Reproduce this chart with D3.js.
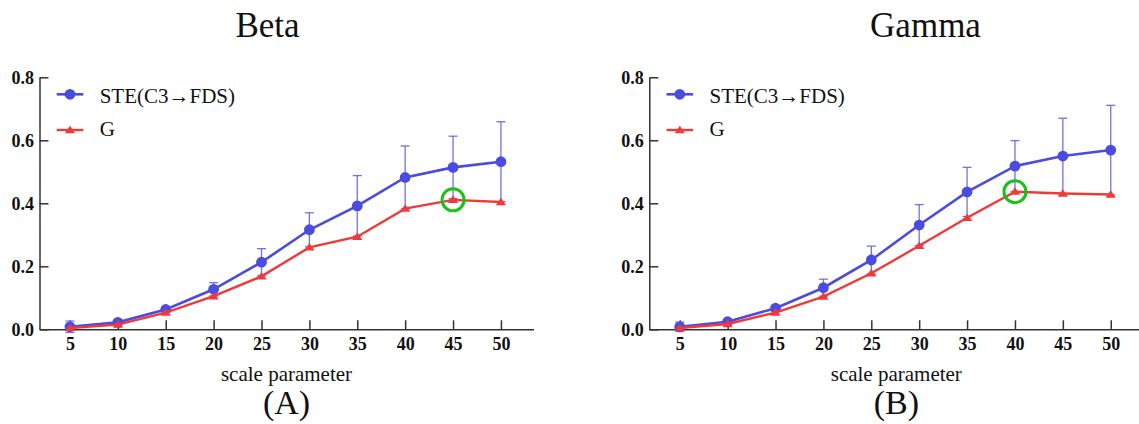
<!DOCTYPE html>
<html>
<head>
<meta charset="utf-8">
<script src="https://cdn.jsdelivr.net/npm/d3@7"></script>
<style>
  body { margin: 0; background: #fff; }
  svg text { font-family: "Liberation Serif", "Times New Roman", Times, serif; }
  .tick text { font-weight: 700; }
</style>
</head>
<body>
<div id="chart"></div>
<script>
const scaleParams = [5, 10, 15, 20, 25, 30, 35, 40, 45, 50];
const yTicks = [0, 0.2, 0.4, 0.6, 0.8];

// Beta panel
const betaSTE = [0.008, 0.022, 0.063, 0.127, 0.213, 0.316, 0.392, 0.482, 0.514, 0.532];
const betaSTESd = [0.018, 0.006, 0.007, 0.021, 0.043, 0.054, 0.096, 0.100, 0.099, 0.127];
const betaG = [0.004, 0.015, 0.053, 0.105, 0.168, 0.260, 0.294, 0.383, 0.411, 0.404];

// Gamma panel
const gammaSTE = [0.008, 0.024, 0.067, 0.132, 0.220, 0.331, 0.436, 0.518, 0.550, 0.569];
const gammaSTESd = [0.015, 0.006, 0.009, 0.027, 0.044, 0.065, 0.078, 0.081, 0.120, 0.142];
const gammaG = [0.004, 0.017, 0.053, 0.104, 0.178, 0.265, 0.354, 0.437, 0.431, 0.428];

const seriesNames = ["STE(C3\u2192FDS)", "G"];

const blue = "#4b4bdf";
const red = "#f03a3a";
const green = "#1cbf1c";

const W = 1139, H = 424;
const svg = d3.select("#chart").append("svg")
    .attr("width", W)
    .attr("height", H);

const panels = [
    { title: "Beta", label: "(A)", left: 39.5, titleX: 267.5, ste: betaSTE, sd: betaSTESd, g: betaG, mark: 45 },
    { title: "Gamma", label: "(B)", left: 649.3, titleX: 925.5, ste: gammaSTE, sd: gammaSTESd, g: gammaG, mark: 40 }
];

const triangle = "M0,-4.3L5.2,3.2L-5.2,3.2Z";

panels.forEach(p => drawPanel(p));

function drawPanel(p) {
    const x = d3.scaleLinear().domain([1.82, 53.4]).range([p.left, p.left + 494]);
    const y = d3.scaleLinear().domain([0, 0.8]).range([329.3, 77.3]);
    const g = svg.append("g");

    // axes, ticks point inward
    const yAxis = g.append("g")
        .attr("transform", `translate(${p.left},0)`)
        .call(d3.axisLeft(y).tickValues(yTicks).tickFormat(d3.format(".1f"))
            .tickSizeInner(-9).tickSizeOuter(0).tickPadding(5.5));
    const xAxis = g.append("g")
        .attr("transform", `translate(0,${y(0)})`)
        .call(d3.axisBottom(x).tickValues(scaleParams)
            .tickSizeInner(-9).tickSizeOuter(0).tickPadding(7.5));
    [xAxis, yAxis].forEach(a => {
        a.attr("font-family", null).attr("font-size", 18);
        a.selectAll("path, line").attr("stroke", "#333").attr("stroke-width", 1.5);
        a.selectAll("text").attr("fill", "#111");
    });

    const rows = scaleParams.map((s, i) => ({ s, ste: p.ste[i], sd: p.sd[i], g: p.g[i] }));

    // error bars
    const eb = g.append("g").attr("stroke", "#6363e6").attr("stroke-width", 1.3).attr("stroke-opacity", 0.9);
    rows.forEach(d => {
        const cx = x(d.s), top = y(d.ste + d.sd), bot = y(d.ste - d.sd);
        eb.append("line").attr("x1", cx).attr("x2", cx).attr("y1", top).attr("y2", bot);
        eb.append("line").attr("x1", cx - 4.5).attr("x2", cx + 4.5).attr("y1", top).attr("y2", top);
        eb.append("line").attr("x1", cx - 4.5).attr("x2", cx + 4.5).attr("y1", bot).attr("y2", bot);
    });

    const steLine = d3.line().x(d => x(d.s)).y(d => y(d.ste));
    const gLine = d3.line().x(d => x(d.s)).y(d => y(d.g));

    g.append("path").datum(rows)
        .attr("d", steLine).attr("fill", "none").attr("stroke", blue).attr("stroke-width", 2.6);
    g.selectAll("circle.ste").data(rows).join("circle")
        .attr("class", "ste")
        .attr("cx", d => x(d.s)).attr("cy", d => y(d.ste)).attr("r", 5.4)
        .attr("fill", blue);

    g.append("path").datum(rows)
        .attr("d", gLine).attr("fill", "none").attr("stroke", red).attr("stroke-width", 2.4);
    g.selectAll("path.tri").data(rows).join("path")
        .attr("class", "tri")
        .attr("d", triangle)
        .attr("transform", d => `translate(${x(d.s)},${y(d.g)})`)
        .attr("fill", red);

    // highlighted point
    const mi = scaleParams.indexOf(p.mark);
    g.append("circle")
        .attr("cx", x(p.mark)).attr("cy", y(p.g[mi])).attr("r", 11)
        .attr("fill", "none").attr("stroke", green).attr("stroke-width", 3);

    // legend
    const lx = p.left + 17.2;
    const leg = g.append("g");
    leg.append("line").attr("x1", lx).attr("x2", lx + 26.6).attr("y1", 94.3).attr("y2", 94.3)
        .attr("stroke", blue).attr("stroke-width", 2.6);
    leg.append("circle").attr("cx", lx + 13.3).attr("cy", 94.3).attr("r", 5.4).attr("fill", blue);
    leg.append("line").attr("x1", lx).attr("x2", lx + 26.6).attr("y1", 130).attr("y2", 130)
        .attr("stroke", red).attr("stroke-width", 2.4);
    leg.append("path").attr("d", triangle).attr("transform", `translate(${lx + 13.3},130)`).attr("fill", red);
    leg.append("text").attr("x", lx + 43).attr("y", 102.7).attr("font-size", 21).attr("fill", "#111").text(seriesNames[0]);
    leg.append("text").attr("x", lx + 43).attr("y", 136).attr("font-size", 21).attr("fill", "#111").text(seriesNames[1]);

    // titles and labels
    const cx = p.left + 247;
    g.append("text").attr("x", p.titleX).attr("y", 37).attr("text-anchor", "middle")
        .attr("font-size", 35).attr("fill", "#111").text(p.title);
    g.append("text").attr("x", cx).attr("y", 381).attr("text-anchor", "middle")
        .attr("font-size", 21).attr("fill", "#111").text("scale parameter");
    g.append("text").attr("x", cx).attr("y", 414).attr("text-anchor", "middle")
        .attr("font-size", 34).attr("fill", "#111").text(p.label);
}
</script>
</body>
</html>
